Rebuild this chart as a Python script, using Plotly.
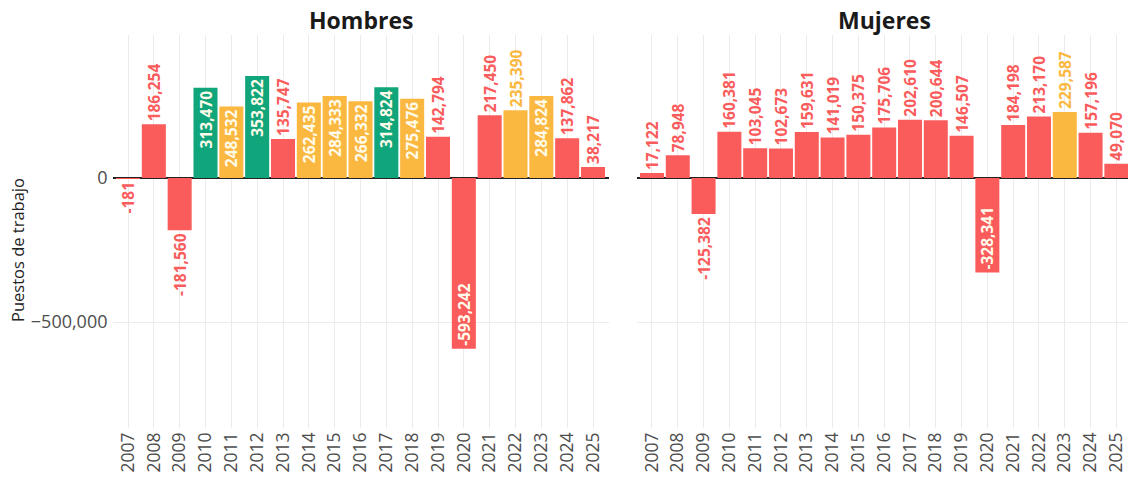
import plotly.graph_objects as go

years = list(range(2007, 2026))
hombres = [-181, 186254, -181560, 313470, 248532, 353822, 135747, 262435, 284333,
           266332, 314824, 275476, 142794, -593242, 217450, 235390, 284824, 137862, 38217]
mujeres = [17122, 78948, -125382, 160381, 103045, 102673, 159631, 141019, 150375,
           175706, 202610, 200644, 146507, -328341, 184198, 213170, 229587, 157196, 49070]
# color class per year: r = red, o = orange, g = green
hombres_cls = ["r", "r", "r", "g", "o", "g", "r", "o", "o", "o", "g", "o", "r", "r", "r", "o", "o", "r", "r"]
mujeres_cls = ["r"] * 16 + ["o"] + ["r"] * 2

PALETTE = {"r": "#FA5C5C", "o": "#FBB840", "g": "#10A57A"}
INSIDE_THRESHOLD = 240000

W, H = 1128, 487
FONT = "Open Sans"


def bar_trace(vals, cls, xaxis, yaxis):
    colors = [PALETTE[c] for c in cls]
    pos = ["inside" if abs(v) > INSIDE_THRESHOLD else "outside" for v in vals]
    tcol = ["#FFFBEA" if p == "inside" else c for p, c in zip(pos, colors)]
    txt = [f"{v:,}" for v in vals]
    return go.Bar(
        x=years, y=vals, marker=dict(color=colors, line=dict(width=0)),
        width=0.93, text=txt, textposition=pos, textangle=-90,
        insidetextanchor="end", constraintext="none", cliponaxis=False,
        textfont=dict(family=FONT, size=15.5, color=tcol, weight="bold"),
        xaxis=xaxis, yaxis=yaxis, showlegend=False, hoverinfo="x+y",
    )


fig = go.Figure()
fig.add_trace(bar_trace(hombres, hombres_cls, "x", "y"))
fig.add_trace(bar_trace(mujeres, mujeres_cls, "x2", "y2"))

step = 25.8
l0 = 112.5
l1 = 608.5
r0 = 636.5
yd = [1 - 428 / H, 1 - 35 / H]
yr = [-868000, 496500]

xcommon = dict(tickmode="array", tickvals=years, ticktext=[str(y) for y in years],
               tickangle=-90, showgrid=True, gridcolor="#EBEBEB", gridwidth=1,
               zeroline=False, showline=False, ticks="", automargin=False,
               tickfont=dict(family=FONT, size=17.5, color="#4D4D4D"))
ycommon = dict(range=yr, domain=yd, tickvals=[0, -500000], showgrid=True,
               gridcolor="#EBEBEB", gridwidth=1, zeroline=True, zerolinecolor="#222222",
               zerolinewidth=2, showline=False, ticks="", automargin=False)

fig.update_layout(
    width=W, height=H, margin=dict(l=0, r=0, t=0, b=0, autoexpand=False),
    paper_bgcolor="white", plot_bgcolor="white",
    bargap=0.07,
    font=dict(family=FONT, color="#4D4D4D"),
    xaxis=dict(domain=[l0 / W, l1 / W], range=[2006.4, 2025.6], anchor="y", **xcommon),
    xaxis2=dict(domain=[r0 / W, 1.0], range=[2006.4, 2006.4 + (W - r0) / step], anchor="y2", **xcommon),
    yaxis=dict(anchor="x", tickformat=",d", showticklabels=True, ticklabelstandoff=4,
               tickfont=dict(family=FONT, size=18, color="#4D4D4D"), **ycommon),
    yaxis2=dict(anchor="x2", showticklabels=False, **ycommon),
)

fig.add_annotation(text="Puestos de trabajo", x=18 / W, y=1 - 250 / H, xref="paper", yref="paper",
                   showarrow=False, textangle=-90, xanchor="center", yanchor="middle",
                   font=dict(family=FONT, size=16.5, color="#222222"))
fig.add_annotation(text="<b>Hombres</b>", x=(l0 + l1) / 2 / W, y=1 - 20 / H, xref="paper", yref="paper",
                   showarrow=False, font=dict(family=FONT, size=23, color="#1A1A1A"),
                   xanchor="center", yanchor="middle")
fig.add_annotation(text="<b>Mujeres</b>", x=(r0 + 1132.5) / 2 / W, y=1 - 20 / H, xref="paper", yref="paper",
                   showarrow=False, font=dict(family=FONT, size=23, color="#1A1A1A"),
                   xanchor="center", yanchor="middle")

fig.write_html("out.html", config={"displayModeBar": False},
               post_script="document.body.style.margin='0';document.body.style.overflow='hidden';")
